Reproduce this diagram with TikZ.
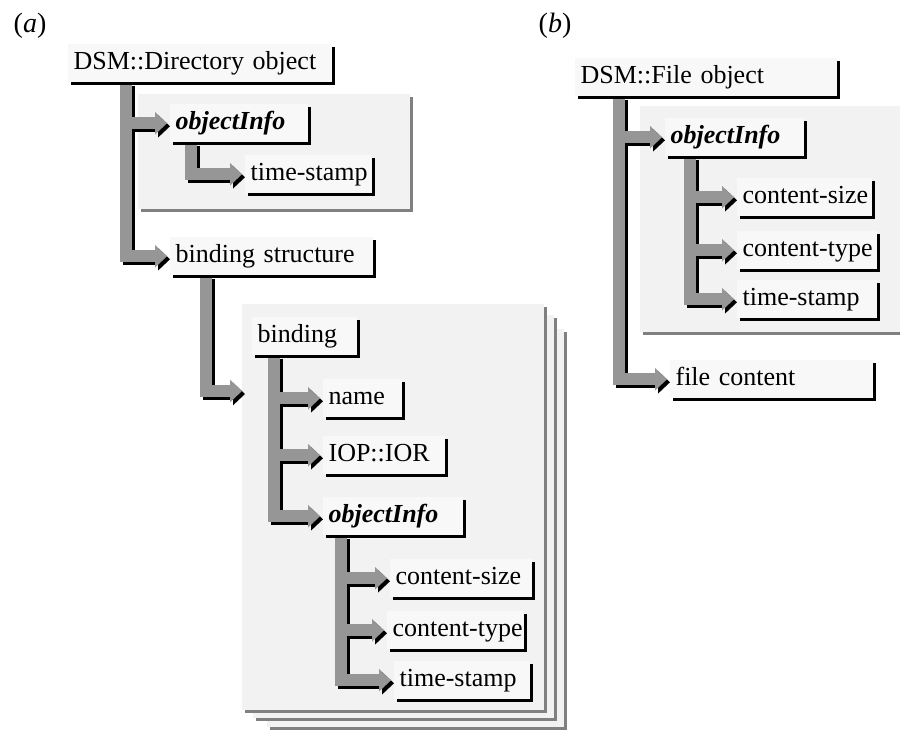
\documentclass[tikz,border=0pt]{standalone}
\usepackage{fontspec}
\setmainfont{Liberation Serif}
\usepackage{tikz}
\usetikzlibrary{positioning, calc, arrows.meta, shadows, backgrounds}

\begin{document}
\begin{tikzpicture}[x=0.75pt, y=-0.75pt,
        box/.style={fill=boxfill, anchor=north west, align=left, inner xsep=4pt, inner ysep=0pt,
            minimum height=28.5pt, text height=13.5pt, text depth=4pt,
            font=\fontsize{19.5}{23}\selectfont,
            execute at begin node={\exhyphenpenalty=10000\hyphenpenalty=10000},
            drop shadow={shadow xshift=2.25pt, shadow yshift=-2.25pt, fill=black, opacity=1}},
        panel/.style={fill=panelfill,
            drop shadow={shadow xshift=2.25pt, shadow yshift=-2.25pt, fill=panelline, opacity=1}},
        bar/.style={draw=bargrey, line width=9pt, shorten >=2.25pt,
            -{Triangle[length=9pt, width=17pt, line width=0pt]}},
        barshade/.style={bar, draw=black, transform canvas={xshift=2.25pt, yshift=-2.25pt}},
        lbl/.style={font=\fontsize{21}{25}\selectfont}]
        % Colours
        \definecolor{boxfill}{RGB}{248, 248, 248}
        \definecolor{panelfill}{RGB}{242, 242, 242}
        \definecolor{panelline}{RGB}{128, 128, 128}
        \definecolor{bargrey}{RGB}{150, 150, 150}

        \useasboundingbox (0,0) rectangle (900,729);

        % Labels (a), (b)
        \node[lbl] (lbla) at (30,26) {(\textit{a})};
        \node[lbl] (lblb) at (555,26) {(\textit{b})};

        % 1. Directory object
        \node[box, text width=190pt] (dir) at (68,44) {DSM::Directory object};
        \node[box, text width=95.5pt] (infoA) at (170,104) {\textbf{\textit{objectInfo}}};
        \node[box, text width=87.25pt] (stampA) at (245,155) {time-stamp};
        \node[box, text width=144.25pt] (bindst) at (170,237) {binding structure};

        % binding (stacked pages)
        \node[box, text width=70.75pt] (bind) at (252,317) {binding};
        \node[box, text width=51.25pt] (name) at (323,379) {name};
        \node[box, text width=83.5pt] (ior) at (323,436) {IOP::IOR};
        \node[box, text width=97pt] (infoB) at (323,497) {\textbf{\textit{objectInfo}}};
        \node[box, text width=98.5pt] (sizeB) at (390,559) {content-size};
        \node[box, text width=94.75pt] (typeB) at (387,611) {content-type};
        \node[box, text width=94pt] (stampB) at (394,661) {time-stamp};
        \coordinate (pagein) at (245,391);

        % 2. File object
        \node[box, text width=188.5pt] (file) at (575,58) {DSM::File object};
        \node[box, text width=96.25pt] (infoC) at (665,118) {\textbf{\textit{objectInfo}}};
        \node[box, text width=93.25pt] (sizeC) at (737,178) {content-size};
        \node[box, text width=97pt] (typeC) at (737,231) {content-type};
        \node[box, text width=97pt] (stampC) at (737,280) {time-stamp};
        \node[box, text width=144.25pt] (content) at (670,360) {file content};

        % 3. Panels and connectors behind the boxes
        \def\links{dir/58/infoA.west, dir/58/bindst.west, infoA/21/stampA.west,
            bindst/36/pagein, bind/22/name.west, bind/22/ior.west, bind/22/infoB.west,
            infoB/18/sizeB.west, infoB/18/typeB.west, infoB/18/stampB.west,
            file/44/infoC.west, file/44/content.west,
            infoC/25/sizeC.west, infoC/25/typeC.west, infoC/25/stampC.west}
        \begin{scope}[on background layer]
            \fill[panel] (267,329) rectangle (564,727);
            \fill[panel] (253,315) rectangle (554,718);
            \fill[panel] (242,304) rectangle (544,710);
            \fill[panel] (138,94) rectangle (410,209);
            \fill[panel] (640,106) rectangle (910,332);
            \foreach \src/\dx/\dst in \links {
                \draw[barshade] ($(\src.south west)+(\dx,0)$) |- (\dst);
            }
            \foreach \src/\dx/\dst in \links {
                \draw[bar] ($(\src.south west)+(\dx,0)$) |- (\dst);
            }
        \end{scope}

    \end{tikzpicture}
\end{document}
